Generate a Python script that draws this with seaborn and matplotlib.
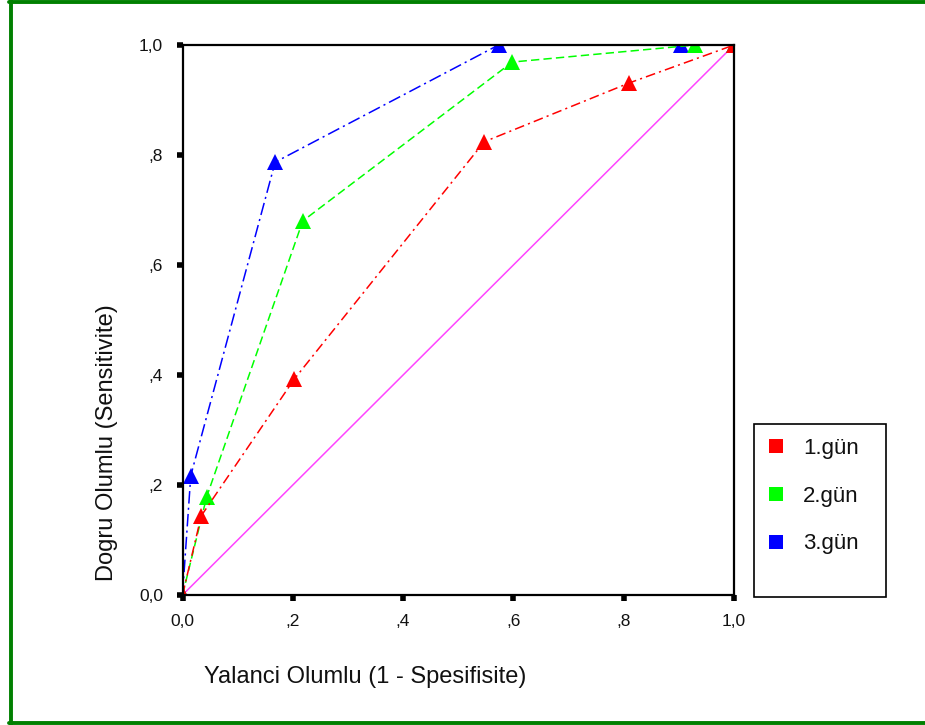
import matplotlib
matplotlib.use("Agg")
import matplotlib.pyplot as plt
import seaborn as sns
import pandas as pd
from matplotlib.lines import Line2D
from matplotlib.patches import Rectangle

# ---- data ----
series_names = ["1.gün", "2.gün", "3.gün"]
red_x = [0.0, 0.034, 0.203, 0.547, 0.810, 1.0]
red_y = [0.0, 0.144, 0.393, 0.824, 0.931, 1.0]
green_x = [0.0, 0.044, 0.218, 0.598, 0.930, 1.0]
green_y = [0.0, 0.179, 0.680, 0.969, 1.0, 1.0]
blue_x = [0.0, 0.015, 0.168, 0.573, 0.904, 1.0]
blue_y = [0.0, 0.217, 0.787, 1.0, 1.0, 1.0]
ref_x = [0.0, 1.0]
ref_y = [0.0, 1.0]
tick_vals = [0.0, 0.2, 0.4, 0.6, 0.8, 1.0]
tick_labels = ["0,0", ",2", ",4", ",6", ",8", "1,0"]
xlabel = "Yalanci Olumlu (1 - Spesifisite)"
ylabel = "Dogru Olumlu (Sensitivite)"

colors = {"1.gün": "#FF0000", "2.gün": "#00FF00", "3.gün": "#0000FF"}
dashes = {"1.gün": (7, 3, 1.5, 3), "2.gün": (6, 3), "3.gün": (9, 3, 1.5, 3)}

frames = []
for name, xs, ys in [("1.gün", red_x, red_y), ("2.gün", green_x, green_y), ("3.gün", blue_x, blue_y)]:
    frames.append(pd.DataFrame({"fpr": xs, "tpr": ys, "gun": name}))
df = pd.concat(frames, ignore_index=True)

sns.set_theme(style="white")
plt.rcParams["font.family"] = ["Liberation Sans", "DejaVu Sans"]
plt.rcParams["lines.scale_dashes"] = False

W, H = 925, 725
fig = plt.figure(figsize=(W / 100, H / 100), dpi=100)
fig.patch.set_facecolor("white")
ax_l, ax_r, ax_t, ax_b = 182.5, 734, 45, 595
ax = fig.add_axes([ax_l / W, 1 - ax_b / H, (ax_r - ax_l) / W, (ax_b - ax_t) / H])
ax.set_facecolor("white")

# reference diagonal
sns.lineplot(x=ref_x, y=ref_y, ax=ax, color="#FF44FF", linewidth=1.1, legend=False)

for name in ["3.gün", "2.gün", "1.gün"]:
    sub = df[df["gun"] == name]
    sns.lineplot(data=sub, x="fpr", y="tpr", ax=ax, sort=False, estimator=None,
                 color=colors[name], linewidth=1.1, legend=False,
                 marker="^", markersize=11, markeredgewidth=0,
                 markerfacecolor=colors[name], dashes=False)
    ax.lines[-1].set_dashes(dashes[name])

ax.set_xlim(0, 1)
ax.set_ylim(0, 1)
ax.set_xticks(tick_vals)
ax.set_xticklabels(tick_labels)
ax.set_yticks(tick_vals)
ax.set_yticklabels(tick_labels)
ax.tick_params(axis="both", which="major", direction="out", length=4, width=4,
               color="black", labelsize=12.5, labelcolor="#111111", pad=10,
               bottom=True, left=True, top=False, right=False)
for s in ax.spines.values():
    s.set_visible(True)
    s.set_color("black")
    s.set_linewidth(1.6)

ax.set_xlabel(xlabel, fontsize=17, color="#111111", va="center", ha="center")
ax.set_ylabel(ylabel, fontsize=17, color="#111111", va="center", ha="center")
ax.xaxis.set_label_coords((365 - ax_l) / (ax_r - ax_l), (ax_b - 677) / (ax_b - ax_t))
ax.yaxis.set_label_coords((107 - ax_l) / (ax_r - ax_l), (ax_b - 443) / (ax_b - ax_t))

# legend
handles = [Line2D([], [], linestyle="none", marker="s", markersize=9.5,
                  markerfacecolor=colors[n], markeredgewidth=0) for n in series_names]
leg = fig.legend(handles, series_names, loc="upper left",
                 bbox_to_anchor=(765 / W, 1 - 438 / H), bbox_transform=fig.transFigure,
                 frameon=False, fontsize=16, handlelength=1.0, handletextpad=0.72,
                 labelspacing=1.2, borderpad=0, borderaxespad=0)
for t in leg.get_texts():
    t.set_color("#111111")
fig.add_artist(Rectangle((754 / W, 1 - 597 / H), 132 / W, 173 / H,
                         transform=fig.transFigure, fill=False,
                         edgecolor="black", linewidth=1.2))

# green outer border
bc = "#008000"
fig.add_artist(Line2D([10.5 / W, 10.5 / W], [0, 1], transform=fig.transFigure, color=bc, linewidth=2.8))
fig.add_artist(Line2D([9 / W, 1], [1 - 1.8 / H, 1 - 1.8 / H], transform=fig.transFigure, color=bc, linewidth=2.8))
fig.add_artist(Line2D([9 / W, 1], [1 - 723 / H, 1 - 723 / H], transform=fig.transFigure, color=bc, linewidth=2.8))

fig.savefig("out.png", dpi=100)
